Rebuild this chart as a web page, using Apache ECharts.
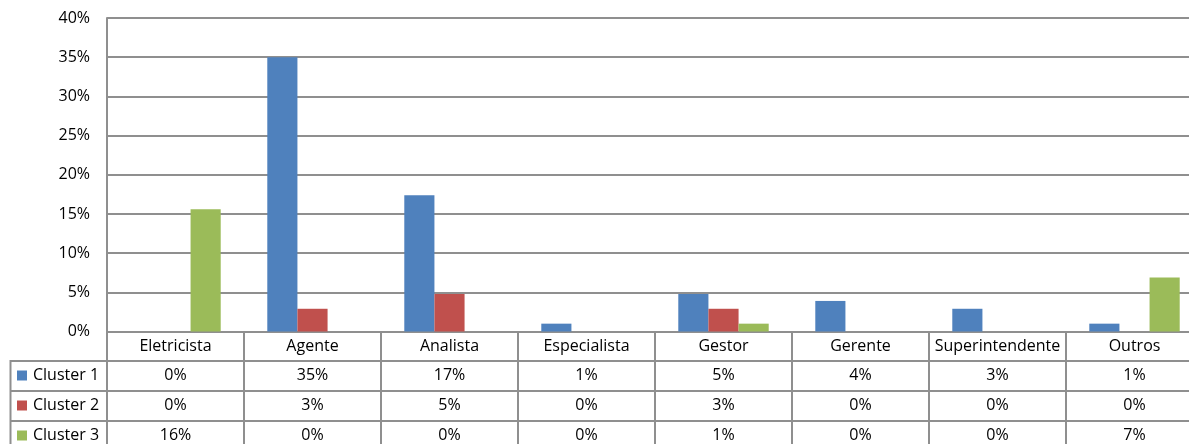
<!DOCTYPE html>
<html>
<head>
<meta charset="utf-8">
<title>Cargos por cluster</title>
<script src="https://cdn.jsdelivr.net/npm/echarts@6/dist/echarts.min.js"></script>
<style>
  html, body { margin: 0; padding: 0; background: #ffffff; }
  #chart { width: 1189px; height: 444px; }
</style>
</head>
<body>
<div id="chart"></div>
<script>
// Job roles (categories) and the share of each cluster in each role, in percent
const categories = ['Eletricista', 'Agente', 'Analista', 'Especialista', 'Gestor', 'Gerente', 'Superintendente', 'Outros'];
const seriesNames = ['Cluster 1', 'Cluster 2', 'Cluster 3'];
const cluster1 = [0, 35.0, 17.4, 1.0, 4.8, 3.9, 2.9, 1.0];
const cluster2 = [0, 2.9, 4.8, 0, 2.9, 0, 0, 0];
const cluster3 = [15.6, 0, 0, 0, 1.0, 0, 0, 6.9];
const yTicks = [0, 5, 10, 15, 20, 25, 30, 35, 40];

const colors = ['#4F81BD', '#C0504D', '#9BBB59'];
const lineColor = '#8f8f8f';
const font = '"Open Sans", Lato, sans-serif';
const fontSize = 16;

// Plot and data-table geometry
const gridLeft = 107;
const gridTop = 18;
const gridHeight = 313.5;
const colWidth = 137;
const headerH = 29;
const rowH = 30;
const tableLeft = 10.5;
const legendLineH = 16;

const pct = v => Math.round(v) + '%';
const rows = [cluster1, cluster2, cluster3];

const chart = echarts.init(document.getElementById('chart'), null, { renderer: 'canvas' });

// One extra category axis per data-table row, stacked under the plot
const rowAxes = rows.map((vals, i) => ({
  type: 'category',
  gridIndex: 0,
  position: 'bottom',
  offset: headerH + i * rowH,
  data: categories,
  axisLine: { show: true, lineStyle: { color: lineColor, width: 2 } },
  axisTick: { show: true, alignWithLabel: false, length: rowH, lineStyle: { color: lineColor, width: 2 } },
  axisLabel: {
    show: true, interval: 0, margin: rowH / 2, verticalAlign: 'middle',
    color: '#000', fontFamily: font, fontSize: fontSize,
    formatter: (v, idx) => pct(vals[idx])
  },
  splitLine: { show: false }
}));

const tableTop = gridTop + gridHeight + headerH;

// Each series key sits in its own table row
const legends = seriesNames.map((name, i) => ({
  orient: 'horizontal',
  left: 17,
  top: tableTop + i * rowH + rowH / 2 - legendLineH / 2,
  itemWidth: 10,
  itemHeight: 10,
  icon: 'rect',
  selectedMode: false,
  padding: 0,
  textStyle: { color: '#000', fontFamily: font, fontSize: fontSize, lineHeight: legendLineH, padding: [0, 0, 0, 1] },
  data: [name]
}));

// Frame lines of the legend column on the left of the table
const tableGraphics = [];
for (let i = 0; i < rows.length; i++) {
  const y = Math.round(tableTop + i * rowH);
  tableGraphics.push({
    type: 'line', silent: true,
    shape: { x1: tableLeft, y1: y, x2: gridLeft, y2: y },
    style: { stroke: lineColor, lineWidth: 2 }
  });
}
tableGraphics.push({
  type: 'line', silent: true,
  shape: { x1: tableLeft, y1: Math.round(tableTop) - 1, x2: tableLeft, y2: 444 },
  style: { stroke: lineColor, lineWidth: 2 }
});

const option = {
  animation: false,
  backgroundColor: '#ffffff',
  color: colors,
  textStyle: { fontFamily: font },
  grid: {
    left: gridLeft, top: gridTop,
    width: colWidth * categories.length, height: gridHeight,
    containLabel: false, outerBoundsMode: 'none'
  },
  legend: legends,
  xAxis: [{
    type: 'category',
    data: categories,
    boundaryGap: true,
    axisLine: { show: true, lineStyle: { color: lineColor, width: 2 } },
    axisTick: { show: true, alignWithLabel: false, length: headerH, lineStyle: { color: lineColor, width: 2 } },
    axisLabel: {
      interval: 0, margin: headerH / 2, verticalAlign: 'middle',
      color: '#000', fontFamily: font, fontSize: fontSize
    },
    splitLine: { show: false }
  }].concat(rowAxes),
  yAxis: {
    type: 'value',
    min: yTicks[0],
    max: yTicks[yTicks.length - 1],
    interval: yTicks[1] - yTicks[0],
    axisLine: { show: true, lineStyle: { color: lineColor, width: 2 } },
    axisTick: { show: false },
    axisLabel: { margin: 17, color: '#000', fontFamily: font, fontSize: fontSize, formatter: '{value}%' },
    splitLine: { show: true, lineStyle: { color: lineColor, width: 2 } }
  },
  series: rows.map((vals, i) => ({
    name: seriesNames[i],
    type: 'bar',
    xAxisIndex: 0,
    data: vals,
    barGap: '0%',
    barCategoryGap: '34%',
    itemStyle: { color: colors[i] },
    emphasis: { disabled: true }
  })),
  graphic: tableGraphics
};

chart.setOption(option);
</script>
</body>
</html>
